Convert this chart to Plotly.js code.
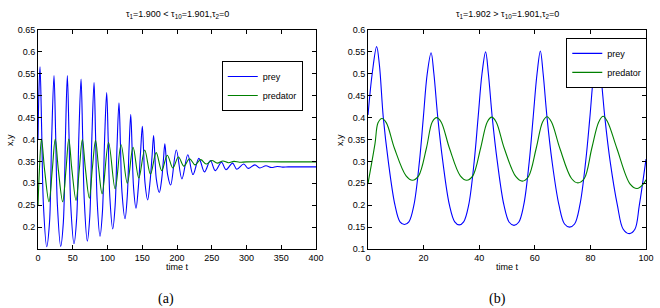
<!DOCTYPE html>
<html>
<head>
<meta charset="utf-8">
<script src="https://cdn.plot.ly/plotly-3.0.1.min.js"></script>
<style>html,body{margin:0;padding:0;background:#fff;}#plot{width:660px;height:308px;}</style>
</head>
<body>
<div id="plot"></div>
<script>
// ---- Panel (a): damped oscillation, t in [0,400] ----
const a_prey_t = [0,1.5,2.9,5.3,7.8,12.5,16.5,19.6,23,25.4,27.9,32.6,36.4,39.4,42.2,44.6,47.1,51.8,55.6,58.8,61.9,64.2,66.6,70.9,74.5,77.6,80.6,82.8,85.1,89.2,92.7,95.8,98.8,101,103.3,107.5,111,113.8,116.5,118.6,120.8,125.2,128.4,131,133.4,135.4,137.5,141,144.3,147.5,150.1,152,154,157.8,161,164,166.3,168.2,170.2,174.5,178,180.5,182.5,184.5,186.5,190.9,199,207,215.5,223,231.5,239.5,248,255,264,270.5,280,286,296,302.5,312,319,328,336,344,352,360,380,400];
const a_prey_v = [0.40,0.52,0.566,0.42,0.25,0.155,0.21,0.40,0.546,0.41,0.25,0.156,0.21,0.40,0.546,0.41,0.25,0.162,0.22,0.41,0.538,0.41,0.26,0.168,0.225,0.41,0.530,0.41,0.26,0.179,0.235,0.40,0.507,0.40,0.27,0.196,0.25,0.39,0.484,0.39,0.28,0.219,0.27,0.38,0.457,0.38,0.29,0.243,0.29,0.37,0.430,0.37,0.30,0.262,0.30,0.36,0.409,0.36,0.31,0.279,0.31,0.355,0.390,0.355,0.32,0.296,0.376,0.310,0.365,0.320,0.357,0.326,0.352,0.329,0.348,0.331,0.346,0.332,0.344,0.334,0.342,0.335,0.340,0.336,0.3385,0.337,0.3375,0.3375,0.3375];
const a_pred_t = [0,2,5,9.5,15.8,20.5,24.8,29.3,35.5,40.2,44.3,48.8,54.7,59.3,63.8,68.2,73.8,78.2,82.8,87.2,92.3,101.5,111,119.5,128.5,136.8,145,153.5,161.8,170,178,186,194,202,210,218,226,234,242,250,258,266,274,282,290,300,350,400];
const a_pred_v = [0.25,0.33,0.401,0.33,0.258,0.33,0.401,0.33,0.258,0.33,0.401,0.33,0.261,0.33,0.400,0.333,0.266,0.335,0.398,0.335,0.276,0.393,0.287,0.388,0.300,0.382,0.312,0.376,0.321,0.370,0.329,0.364,0.335,0.360,0.339,0.356,0.342,0.354,0.344,0.352,0.346,0.351,0.347,0.350,0.348,0.349,0.349,0.349];

// ---- Panel (b): sustained oscillation, t in [0,100] ----
const b_prey_t = [0,1.5,3.1,4.1,5.5,7.3,9.7,11.5,13.1,14.7,16.5,18.5,19.9,21.3,22.7,23.7,25.1,26.9,29.3,31.2,32.8,34.4,36.2,38.2,39.6,41.0,42.3,43.3,44.7,46.5,48.9,50.8,52.5,54.2,56.0,58.0,59.4,60.8,62.0,63.0,64.4,66.2,68.7,70.7,72.5,74.3,76.2,78.3,79.8,81.2,82.6,83.7,85.2,87.1,89.7,91.8,94.0,96.0,97.6,100];
const b_prey_v = [0.406,0.50,0.562,0.52,0.40,0.30,0.20,0.162,0.156,0.162,0.20,0.30,0.40,0.50,0.548,0.50,0.40,0.30,0.20,0.162,0.155,0.162,0.20,0.30,0.40,0.50,0.550,0.50,0.40,0.30,0.20,0.161,0.154,0.161,0.20,0.30,0.40,0.50,0.552,0.50,0.40,0.30,0.20,0.157,0.150,0.157,0.20,0.30,0.40,0.50,0.550,0.50,0.40,0.30,0.20,0.145,0.135,0.145,0.20,0.305];
const b_pred_t = [0,2.5,3.6,5.0,6.6,9.5,13.7,16.0,18.2,21.0,23.1,24.7,26.3,29.3,33.2,35.5,37.7,40.5,42.9,44.5,46.1,49.0,53.2,55.5,57.7,60.5,62.8,64.4,66.0,69.0,73.2,75.5,77.8,80.5,83.0,84.6,86.2,89.5,94.3,96.8,99,100];
const b_pred_v = [0.25,0.34,0.388,0.398,0.388,0.33,0.267,0.257,0.267,0.33,0.39,0.400,0.39,0.33,0.267,0.257,0.267,0.33,0.39,0.401,0.39,0.33,0.265,0.255,0.265,0.33,0.39,0.402,0.39,0.33,0.261,0.251,0.261,0.33,0.39,0.403,0.39,0.33,0.248,0.238,0.248,0.258];

const seriesNames = ['prey','predator'];
const BLUE = '#0000ff', GREEN = '#008000';
const tickFont = {family:'Liberation Sans, Arial, sans-serif', size:9, color:'#000'};

const traces = [
  {x:a_prey_t, y:a_prey_v, name:seriesNames[0], type:'scatter', mode:'lines', line:{color:BLUE,width:1.1,shape:'spline',smoothing:1}, xaxis:'x', yaxis:'y', legend:'legend'},
  {x:a_pred_t, y:a_pred_v, name:seriesNames[1], type:'scatter', mode:'lines', line:{color:GREEN,width:1.1,shape:'spline',smoothing:1}, xaxis:'x', yaxis:'y', legend:'legend'},
  {x:b_prey_t, y:b_prey_v, name:seriesNames[0], type:'scatter', mode:'lines', line:{color:BLUE,width:1.1,shape:'spline',smoothing:1}, xaxis:'x2', yaxis:'y2', legend:'legend2'},
  {x:b_pred_t, y:b_pred_v, name:seriesNames[1], type:'scatter', mode:'lines', line:{color:GREEN,width:1.1,shape:'spline',smoothing:1}, xaxis:'x2', yaxis:'y2', legend:'legend2'}
];

function ax(extra){
  return Object.assign({showgrid:false, zeroline:false, showline:true, linecolor:'#000', linewidth:1, mirror:'ticks', ticks:'inside', ticklen:4, tickcolor:'#000', tickfont:tickFont}, extra);
}
const legendBase = {bgcolor:'#fff', bordercolor:'#000', borderwidth:1, font:{family:'Liberation Sans, Arial, sans-serif', size:9, color:'#000'}, xanchor:'left', yanchor:'top', tracegroupgap:0, itemwidth:30};

const annFont = {family:'Liberation Sans, Arial, sans-serif', size:9, color:'#000'};
const serifFont = {family:'Liberation Serif', size:14, color:'#000'};
const layout = {
  width:660, height:308,
  margin:{l:0,r:0,t:0,b:0},
  paper_bgcolor:'#fff', plot_bgcolor:'#fff',
  showlegend:true,
  xaxis: ax({domain:[0.0576,0.4788], range:[0,400], tickvals:[0,50,100,150,200,250,300,350,400], anchor:'y'}),
  yaxis: ax({domain:[0.1916,0.9026], range:[0.15,0.65], tickvals:[0.2,0.25,0.3,0.35,0.4,0.45,0.5,0.55,0.6,0.65], anchor:'x'}),
  xaxis2: ax({domain:[0.5576,0.9788], range:[0,100], tickvals:[0,20,40,60,80,100], anchor:'y2'}),
  yaxis2: ax({domain:[0.1916,0.9026], range:[0.1,0.6], tickvals:[0.1,0.15,0.2,0.25,0.3,0.35,0.4,0.45,0.5,0.55,0.6], anchor:'x2'}),
  legend: Object.assign({}, legendBase, {x:0.336, y:0.802}),
  legend2: Object.assign({}, legendBase, {x:0.858, y:0.877}),
  annotations:[
    {text:'τ<sub>1</sub>=1.900 &lt; τ<sub>10</sub>=1.901,τ<sub>2</sub>=0', xref:'paper', yref:'paper', x:177/660, y:1-15/308, showarrow:false, font:annFont, xanchor:'center', yanchor:'middle'},
    {text:'τ<sub>1</sub>=1.902 &gt; τ<sub>10</sub>=1.901,τ<sub>2</sub>=0', xref:'paper', yref:'paper', x:507/660, y:1-15/308, showarrow:false, font:annFont, xanchor:'center', yanchor:'middle'},
    {text:'x,y', xref:'paper', yref:'paper', x:10/660, y:1-140/308, showarrow:false, textangle:-90, font:annFont, xanchor:'center', yanchor:'middle'},
    {text:'x,y', xref:'paper', yref:'paper', x:340/660, y:1-140/308, showarrow:false, textangle:-90, font:annFont, xanchor:'center', yanchor:'middle'},
    {text:'time t', xref:'paper', yref:'paper', x:177/660, y:1-267/308, showarrow:false, font:annFont, xanchor:'center', yanchor:'middle'},
    {text:'time t', xref:'paper', yref:'paper', x:507/660, y:1-267/308, showarrow:false, font:annFont, xanchor:'center', yanchor:'middle'},
    {text:'(a)', xref:'paper', yref:'paper', x:166/660, y:1-299/308, showarrow:false, font:serifFont, xanchor:'center', yanchor:'middle'},
    {text:'(b)', xref:'paper', yref:'paper', x:497/660, y:1-299/308, showarrow:false, font:serifFont, xanchor:'center', yanchor:'middle'}
  ]
};
Plotly.newPlot('plot', traces, layout, {staticPlot:true, displayModeBar:false});
</script>
</body>
</html>
